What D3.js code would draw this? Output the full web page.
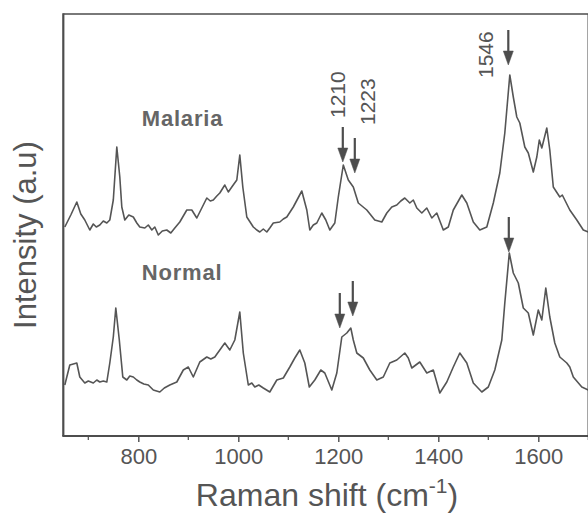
<!DOCTYPE html>
<html><head><meta charset="utf-8">
<script src="https://cdn.jsdelivr.net/npm/d3@7/dist/d3.min.js"></script>
<style>body{margin:0;background:#fff}svg{display:block}text{font-family:"Liberation Sans",Arial,sans-serif}</style>
</head><body><svg id="c" width="588" height="518"></svg>
<script>
const malariaShift = [653,665,677,685,693,703,710,716,723,730,737,743,750,757,763,767,773,781,790,797,803,813,820,827,833,840,848,857,865,873,883,897,907,917,927,937,944,950,957,963,973,980,987,997,1003,1009,1017,1030,1037,1043,1050,1057,1063,1070,1083,1090,1097,1110,1127,1137,1143,1150,1157,1167,1175,1183,1193,1200,1210,1220,1230,1240,1257,1273,1287,1297,1307,1317,1325,1333,1343,1350,1357,1367,1377,1387,1397,1410,1420,1430,1447,1457,1470,1483,1497,1510,1523,1533,1543,1550,1557,1563,1573,1580,1590,1597,1602,1607,1617,1623,1630,1643,1648,1653,1663,1677,1690,1700];
const malariaIntensity = [209,221,234,222,216,206,212,209,211,215,213,216,236,289,259,229,216,221,219,213,209,208,211,206,209,201,205,206,203,208,214,226,226,218,228,238,235,236,240,243,251,244,249,256,281,249,219,209,206,204,207,204,208,213,214,217,219,229,245,226,206,211,213,223,216,206,213,239,271,256,249,233,226,216,214,223,229,231,235,238,233,236,228,223,228,218,223,206,209,226,241,233,214,206,209,233,263,303,361,339,319,313,289,283,264,279,296,288,308,286,249,239,241,236,226,216,206,204];
const normalShift = [653,663,677,683,693,700,710,717,723,730,737,743,750,755,762,769,777,783,790,797,803,811,820,830,843,852,863,877,890,900,910,923,937,945,953,963,973,983,993,1003,1010,1020,1027,1033,1041,1050,1063,1077,1090,1103,1113,1123,1133,1142,1153,1165,1173,1187,1197,1207,1217,1225,1230,1237,1250,1263,1277,1290,1303,1317,1333,1340,1347,1363,1377,1390,1403,1417,1430,1443,1457,1470,1487,1500,1513,1527,1533,1542,1550,1560,1570,1580,1590,1600,1607,1615,1623,1633,1643,1657,1663,1670,1687,1700];
const normalIntensity = [51,71,73,59,53,55,53,56,54,55,54,73,99,128,96,59,56,60,59,56,54,52,51,46,44,48,51,54,66,69,59,74,79,77,79,86,93,86,96,124,83,51,53,49,51,48,44,56,58,69,78,86,73,49,56,66,63,46,63,99,103,108,96,83,78,66,56,59,73,76,83,78,68,74,63,66,43,54,69,83,73,53,44,49,66,96,133,183,163,153,128,123,101,126,116,148,119,93,79,73,69,59,49,46];
const xTicks = [800,1000,1200,1400,1600];
const xMinorTicks = [700,900,1100,1300,1500,1700];
const seriesNames = ["Malaria","Normal"];
const seriesLabelPos = [[807,310],[807,156]];
// arrows: [shift, tip intensity]
const arrowPoints = [[1209,274],[1233,263],[1540,371],[1203,108],[1229,120],[1541,184]];
// peak labels: text, [shift, intensity at label start]
const peakLabels = ["1210","1223","1546"];
const peakLabelPos = [[1198,318],[1258,311],[1495,358]];

const svg = d3.select("#c");
const L = 63.3, R = 588.3, T = 14, B = 436;
const x = d3.scaleLinear().domain([650,1700]).range([L,R]);
const y = d3.scaleLinear().domain([0,422]).range([B,T]);
const ink = "#4d4d4d";

svg.append("clipPath").attr("id","clip").append("rect")
  .attr("x",L).attr("y",T).attr("width",R-L).attr("height",B-T);

const line = d3.line().x(d=>x(d[0])).y(d=>y(d[1]));
const series = [d3.zip(malariaShift, malariaIntensity), d3.zip(normalShift, normalIntensity)];
svg.append("g").attr("clip-path","url(#clip)").selectAll("path").data(series).join("path")
  .attr("d", line).attr("fill","none").attr("stroke","#555").attr("stroke-width",1.6)
  .attr("stroke-linejoin","round");

// frame
svg.append("line").attr("x1",L).attr("x2",R).attr("y1",T).attr("y2",T).attr("stroke",ink).attr("stroke-width",1.6);
svg.append("line").attr("x1",L).attr("x2",L).attr("y1",T-0.8).attr("y2",B).attr("stroke",ink).attr("stroke-width",2.2);
svg.append("line").attr("x1",R).attr("x2",R).attr("y1",T).attr("y2",B).attr("stroke",ink).attr("stroke-width",1.6);

// x axis
const ax = svg.append("g").attr("transform",`translate(0,${B})`)
  .call(d3.axisBottom(x).tickValues(xTicks).tickSize(6).tickPadding(6).tickFormat(d3.format("d")));
ax.select(".domain").attr("stroke",ink).attr("stroke-width",2).attr("d",`M${L-1},0H${R}`);
ax.selectAll(".tick line").attr("stroke",ink).attr("stroke-width",1.4);
ax.selectAll(".tick text").attr("fill","#555").attr("font-size",22).attr("font-family","Liberation Sans, Arial, sans-serif");
svg.append("g").selectAll("line").data(xMinorTicks).join("line")
  .attr("x1",d=>x(d)).attr("x2",d=>x(d)).attr("y1",B).attr("y2",B+4)
  .attr("stroke",ink).attr("stroke-width",1.2);

// axis titles
const xt = svg.append("text").attr("x",327).attr("y",506).attr("text-anchor","middle")
  .attr("fill","#555").attr("font-size",32);
xt.append("tspan").text("Raman shift (cm");
xt.append("tspan").text("-1").attr("font-size",21).attr("dy",-13);
xt.append("tspan").text(")").attr("dy",13);
svg.append("text").attr("transform","translate(36,235) rotate(-90)").attr("text-anchor","middle")
  .attr("fill","#555").attr("font-size",31).text("Intensity (a.u)");

// series labels
svg.append("g").selectAll("text").data(seriesNames).join("text")
  .attr("x",(d,i)=>x(seriesLabelPos[i][0])).attr("y",(d,i)=>y(seriesLabelPos[i][1]))
  .attr("fill","#666").attr("font-size",22).attr("font-weight","bold").attr("letter-spacing",0.8)
  .text(d=>d);

// arrows
const ag = svg.append("g").attr("fill",ink).attr("stroke",ink);
arrowPoints.forEach(p=>{
  const ax0 = x(p[0]), ty = y(p[1]);
  ag.append("line").attr("x1",ax0).attr("x2",ax0).attr("y1",ty-35).attr("y2",ty-10).attr("stroke-width",2.2);
  ag.append("path").attr("d",`M${ax0-5},${ty-14}L${ax0+5},${ty-14}L${ax0},${ty}Z`).attr("stroke-width",0.5);
});

// peak labels
svg.append("g").selectAll("text").data(peakLabels).join("text")
  .attr("transform",(d,i)=>`translate(${x(peakLabelPos[i][0])},${y(peakLabelPos[i][1])}) rotate(-90)`)
  .attr("dominant-baseline","central").attr("fill","#555").attr("font-size",21).text(d=>d);
</script></body></html>
